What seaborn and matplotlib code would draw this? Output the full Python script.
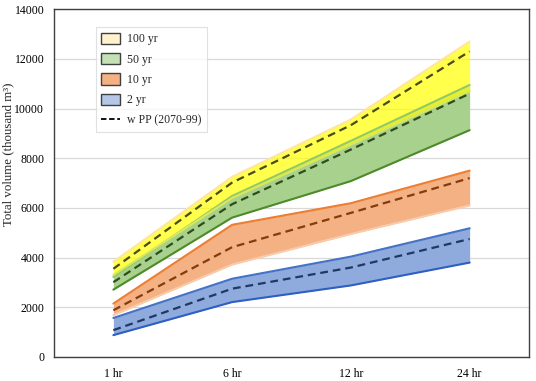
import matplotlib
matplotlib.use("Agg")
import matplotlib.pyplot as plt
from matplotlib.patches import Patch
from matplotlib.lines import Line2D
import pandas as pd
import seaborn as sns

# durations on the x axis
durations = ['1 hr', '6 hr', '12 hr', '24 hr']

# band lower / upper bounds and the "w PP (2070-99)" dashed line (thousand m3)
yr2_low = [880, 2210, 2880, 3800]
yr2_high = [1570, 3150, 4040, 5180]
yr2_pp = [1080, 2750, 3600, 4750]

yr10_low = [1680, 3720, 4950, 6100]
yr10_high = [2150, 5320, 6190, 7500]
yr10_pp = [1880, 4420, 5800, 7200]

yr50_low = [2710, 5610, 7080, 9130]
yr50_high = [3220, 6480, 8700, 10950]
yr50_pp = [3010, 6150, 8350, 10600]

yr100_low = [3300, 6400, 8550, 10700]
yr100_high = [3830, 7250, 9560, 12700]
yr100_pp = [3550, 7020, 9330, 12300]

sns.set_style("white")
plt.rcParams['font.family'] = ['Liberation Serif', 'DejaVu Serif']

x = list(range(len(durations)))
bands = [
    # low, high, pp, fill, alpha, low line, high line, dash colour
    (yr2_low, yr2_high, yr2_pp, '#8faadc', 1.0, '#2f5fc4', '#4472c4', '#1f3864'),
    (yr10_low, yr10_high, yr10_pp, '#f4b183', 1.0, '#f8cbad', '#ed7d31', '#843c0c'),
    (yr50_low, yr50_high, yr50_pp, '#a9d18e', 1.0, '#4e8a2a', '#92c86a', '#2e4d1c'),
    (yr100_low, yr100_high, yr100_pp, '#ffff00', 0.7, '#d9e85a', '#ffe699', '#4a4a1a'),
]

fig, ax = plt.subplots(figsize=(5.36, 3.81), dpi=100)
fig.subplots_adjust(left=0.1007, right=0.987, bottom=0.063, top=0.976)

for low, high, pp, fc, a, lc, hc, dc in bands:
    ax.fill_between(x, low, high, color=fc, alpha=a, linewidth=0, zorder=2)
    df = pd.DataFrame({'x': x, 'low': low, 'high': high, 'pp': pp})
    sns.lineplot(data=df, x='x', y='low', color=lc, lw=1.5, ax=ax, zorder=3)
    sns.lineplot(data=df, x='x', y='high', color=hc, lw=1.5, ax=ax, zorder=3)
    sns.lineplot(data=df, x='x', y='pp', color=dc, lw=1.6, ax=ax, zorder=4,
                 dashes=False, linestyle=(0, (3.5, 2.2)))

ax.set_xlim(-0.5, 3.5)
ax.set_ylim(0, 14000)
ax.set_yticks(range(0, 14001, 2000))
ax.set_xticks(x)
ax.set_xticklabels(durations)
ax.yaxis.grid(True, color='#d9d9d9', lw=0.9, zorder=0)
ax.set_axisbelow(True)
ax.tick_params(axis='y', length=0, labelsize=8.5, colors='black', pad=7)
ax.tick_params(axis='x', length=0, labelsize=8.5, colors='black', pad=8)
ax.set_xlabel('')
ax.set_ylabel('')
fig.text(0.0155, 0.596, 'Total volume (thousand m³)', rotation=90,
         ha='center', va='center', fontsize=9.3)
for s in ax.spines.values():
    s.set_color('#404040')
    s.set_linewidth(1.0)

handles = [
    Patch(facecolor='#fff2cc', edgecolor='#404040', label='100 yr'),
    Patch(facecolor='#c5e0b4', edgecolor='#404040', label='50 yr'),
    Patch(facecolor='#f4b183', edgecolor='#404040', label='10 yr'),
    Patch(facecolor='#b4c7e7', edgecolor='#404040', label='2 yr'),
    Line2D([0], [0], color='black', lw=1.3, linestyle=(0, (3, 1.5)), label='w PP (2070-99)'),
]
leg = ax.legend(handles=handles, loc='upper left', bbox_to_anchor=(0.088, 0.948),
                borderaxespad=0, fontsize=8.5, frameon=True, fancybox=False,
                edgecolor='#d9d9d9', handlelength=1.6, handleheight=1.1,
                handletextpad=0.6, labelspacing=0.65, borderpad=0.45)
leg.get_frame().set_linewidth(0.8)

fig.savefig('out.png', dpi=100)
